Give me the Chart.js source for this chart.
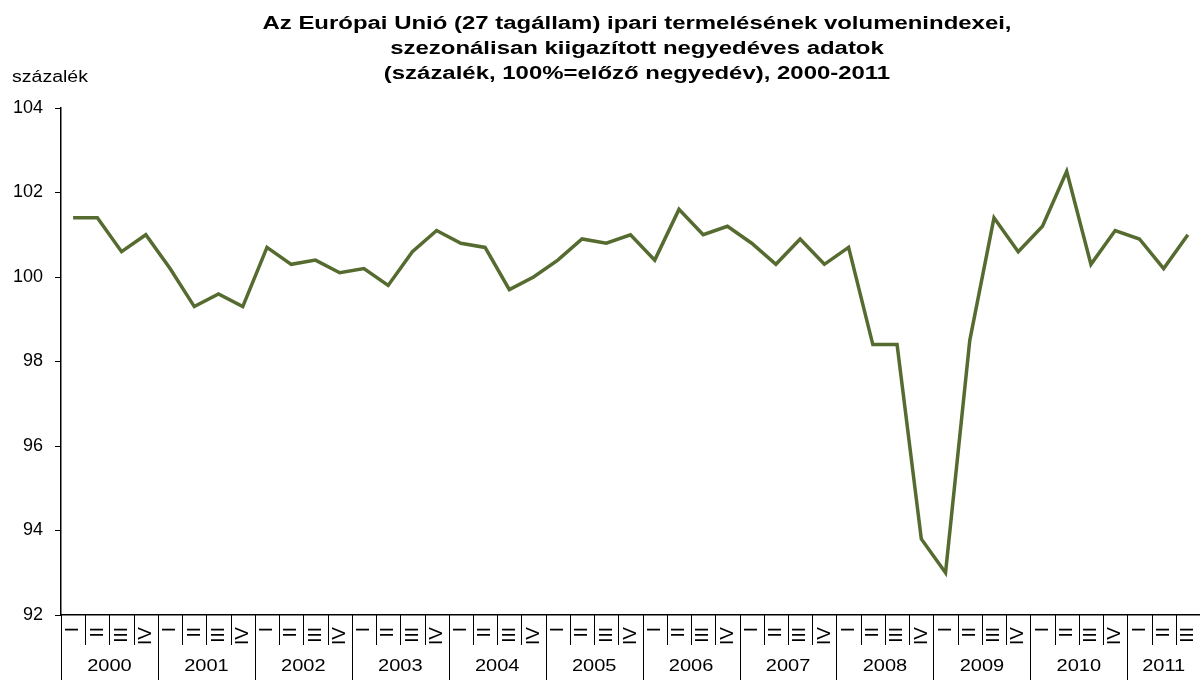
<!DOCTYPE html>
<html>
<head>
<meta charset="utf-8">
<script src="https://cdn.jsdelivr.net/npm/chart.js@4"></script>
<style>
  html, body { margin: 0; padding: 0; background: #fff; }
  #wrap { width: 1200px; height: 680px; position: relative; }
</style>
</head>
<body>
<div id="wrap"><canvas id="chart" width="1200" height="680"></canvas></div>
<script>
// ── data ─────────────────────────────────────────────────────────────────────
const years = ['2000', '2001', '2002', '2003', '2004', '2005', '2006', '2007', '2008', '2009', '2010', '2011'];
const quarterNames = ['I', 'II', 'III', 'IV'];
const quartersPerYear = [4, 4, 4, 4, 4, 4, 4, 4, 4, 4, 4, 3];

const indexValues = [
  101.4, 101.4, 100.6, 101.0,   // 2000
  100.2,  99.3,  99.6,  99.3,   // 2001
  100.7, 100.3, 100.4, 100.1,   // 2002
  100.2,  99.8, 100.6, 101.1,   // 2003
  100.8, 100.7,  99.7, 100.0,   // 2004
  100.4, 100.9, 100.8, 101.0,   // 2005
  100.4, 101.6, 101.0, 101.2,   // 2006
  100.8, 100.3, 100.9, 100.3,   // 2007
  100.7,  98.4,  98.4,  93.8,   // 2008
   93.0,  98.5, 101.4, 100.6,   // 2009
  101.2, 102.5, 100.3, 101.1,   // 2010
  100.9, 100.2, 101.0           // 2011
];

const yTicks = [92, 94, 96, 98, 100, 102, 104];

const titleLines = [
  'Az Európai Unió (27 tagállam) ipari termelésének volumenindexei,',
  'szezonálisan kiigazított negyedéves adatok',
  '(százalék, 100%=előző negyedév), 2000-2011'
];
const unitLabel = 'százalék';

// category labels built from the arrays above
const quarterLabels = [];
years.forEach((y, i) => {
  for (let q = 0; q < quartersPerYear[i]; q++) quarterLabels.push(quarterNames[q]);
});

const FONT = "'Liberation Sans', Arial, sans-serif";

// the original export has horizontally stretched lettering
function stretchedText(ctx, text, x, y, sx, align) {
  ctx.save();
  ctx.translate(x, y);
  ctx.scale(sx, 1);
  ctx.textAlign = align;
  ctx.fillText(text, 0, 0);
  ctx.restore();
}

// title, unit label, year row + separators under the x axis
const axisDecor = {
  id: 'axisDecor',
  afterDraw(chart) {
    const { ctx, chartArea } = chart;
    const x = chart.scales.x;
    const n = quarterLabels.length;
    const w = (chartArea.right - chartArea.left) / n;
    const base = chartArea.bottom;

    ctx.save();
    ctx.strokeStyle = '#000';
    ctx.lineWidth = 1;
    let idx = 0;
    years.forEach((yr, i) => {
      for (let q = 0; q < quartersPerYear[i]; q++) {
        const bx = Math.round(x.getPixelForValue(idx) - w / 2) + 0.5;
        ctx.beginPath();
        ctx.moveTo(bx, base);
        ctx.lineTo(bx, q === 0 ? 680 : base + 30);
        ctx.stroke();
        idx++;
      }
    });

    ctx.fillStyle = '#000';
    ctx.textBaseline = 'middle';

    // years
    ctx.font = `16px ${FONT}`;
    let start = 0;
    years.forEach((yr, i) => {
      const a = x.getPixelForValue(start) - w / 2;
      const b = x.getPixelForValue(start + quartersPerYear[i] - 1) + w / 2;
      stretchedText(ctx, yr, (a + b) / 2, 667, 1.25, 'center');
      start += quartersPerYear[i];
    });

    // unit label
    stretchedText(ctx, unitLabel, 12, 78, 1.22, 'left');

    // title
    ctx.font = `bold 18px ${FONT}`;
    titleLines.forEach((line, i) => {
      stretchedText(ctx, line, 637, 24 + i * 25, 1.33, 'center');
    });
    ctx.restore();
  }
};

new Chart(document.getElementById('chart').getContext('2d'), {
  type: 'line',
  data: {
    labels: quarterLabels,
    datasets: [{
      data: indexValues,
      borderColor: '#556b2f',
      borderWidth: 3.5,
      pointRadius: 0,
      tension: 0,
      fill: false
    }]
  },
  options: {
    responsive: false,
    animation: false,
    layout: { padding: { left: 0, right: 0, top: 108, bottom: 0 } },
    plugins: {
      legend: { display: false },
      tooltip: { enabled: false },
      title: { display: false }
    },
    scales: {
      x: {
        offset: true,
        grid: { display: false, offset: true },
        border: { display: true, color: '#000', width: 1.5 },
        ticks: {
          autoSkip: false,
          minRotation: 90,
          maxRotation: 90,
          padding: 4,
          color: '#000',
          font: { family: FONT, size: 19 }
        },
        afterFit: s => { s.height = 65; s.paddingLeft = 0; s.paddingRight = 0; }
      },
      y: {
        min: 92,
        max: 104,
        afterBuildTicks: s => { s.ticks = yTicks.map(v => ({ value: v })); },
        grid: { display: true, drawOnChartArea: false, tickLength: 6, color: '#000' },
        border: { display: true, color: '#000', width: 1.5 },
        ticks: {
          padding: 12,
          color: '#000',
          font: { family: FONT, size: 18 }
        },
        afterFit: s => { s.width = 61; s.paddingTop = 0; s.paddingBottom = 0; }
      }
    }
  },
  plugins: [axisDecor]
});
</script>
</body>
</html>
